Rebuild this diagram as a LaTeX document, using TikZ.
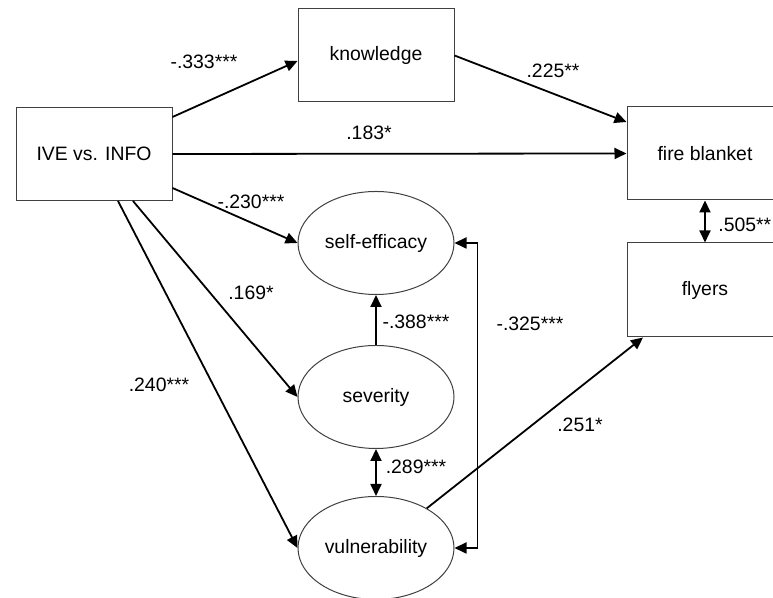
\documentclass[tikz,border=0pt]{standalone}
\usepackage{fontspec}
\setmainfont{Liberation Sans}
\usetikzlibrary{shapes.geometric,arrows.meta}

\begin{document}
\begin{tikzpicture}[x=0.5pt,y=0.5pt,
	every node/.style={font=\fontsize{9.7}{11.6}\selectfont},
	box/.style={draw=black!75,line width=0.5pt,minimum width=78pt,minimum height=46.5pt,inner sep=0pt},
	oval/.style={ellipse,draw=black!75,line width=0.5pt,minimum width=78pt,minimum height=51.5pt,inner sep=0pt},
	arr/.style={line width=0.9pt,-{Triangle[length=6pt,width=5.5pt]}},
	both/.style={line width=0.9pt,{Triangle[length=6pt,width=5.5pt]}-{Triangle[length=6pt,width=5.5pt]}},
	lab/.style={inner sep=0pt}]
	\useasboundingbox (0,0) rectangle (773,598);
	\clip (0,0) rectangle (773,598);

	% boxes and ovals
	\node[box] (ive) at (94,444) {IVE vs. INFO};
	\node[box] (know) at (376,542.5) {knowledge};
	\node[box] (fire) at (705,444.5) {fire blanket};
	\node[box,minimum height=47pt] (flyers) at (705,308) {flyers};
	\node[oval] (self) at (376,355) {self-efficacy};
	\node[oval] (sev) at (376,201) {severity};
	\node[oval] (vul) at (376,50) {vulnerability};

	% paths
	\draw[arr] ([yshift=18.5pt]ive.east) -- ([yshift=-2.75pt]know.west);
	\draw[arr] (know.east) -- ([yshift=15.75pt]fire.west);
	\draw[arr] (ive.east) -- (fire.west);
	\draw[arr] ([yshift=-17pt]ive.east) -- (self.west);
	\draw[arr] ([xshift=19.5pt]ive.south) -- (sev.west);
	\draw[arr] ([xshift=12pt]ive.south) -- (vul.west);
	\draw[arr] (sev.north) -- (self.south);
	\draw[both] (sev.south) -- (vul.north);
	\draw[both] (self.east) -- ++(11.5pt,0) |- (vul.east);
	\draw[arr] (vul.38) -- ([xshift=-31pt]flyers.south);
	\draw[both] (fire.south) -- (flyers.north);

	% coefficients
	\node[lab] (c1) at (204,536) {-.333***};
	\node[lab] (c2) at (553,527) {.225**};
	\node[lab] (c3) at (369,465) {.183*};
	\node[lab] (c4) at (251,396) {-.230***};
	\node[lab] (c5) at (251,305) {.169*};
	\node[lab] (c6) at (159,213) {.240***};
	\node[lab] (c7) at (416,276) {-.388***};
	\node[lab] (c8) at (416,131) {.289***};
	\node[lab] (c9) at (530,274) {-.325***};
	\node[lab] (c10) at (580,173) {.251*};
	\node[lab,anchor=west] (c11) at (718,373) {.505**};
\end{tikzpicture}
\end{document}
